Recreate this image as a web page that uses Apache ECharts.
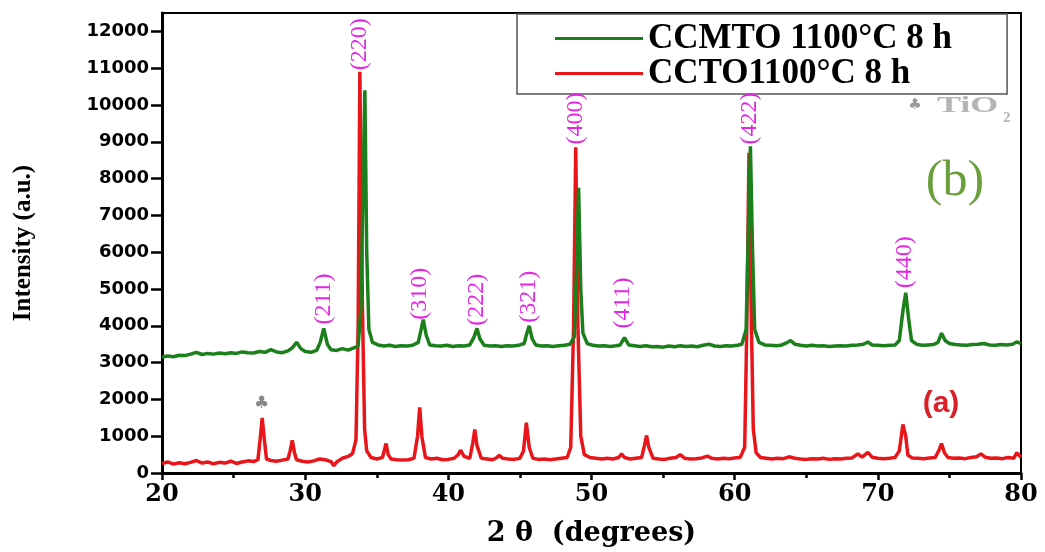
<!DOCTYPE html>
<html>
<head>
<meta charset="utf-8">
<script src="https://cdn.jsdelivr.net/npm/echarts@6/dist/echarts.min.js"></script>
<style>
html, body { margin: 0; padding: 0; background: #fff; }
#main { width: 1045px; height: 552px; }
</style>
</head>
<body>
<div id="main"></div>
<script>
// series names
var nameB = 'CCMTO 1100°C 8 h';
var nameA = 'CCTO1100°C 8 h';

// tick labels of the y axis (12500 is the frame top, unlabelled)
var yTicks = [0, 1000, 2000, 3000, 4000, 5000, 6000, 7000, 8000, 9000, 10000, 11000, 12000];

// (b) CCMTO, [2theta, intensity]
var ccmto = [
	[20.0,3150],[20.4,3180],[20.8,3160],[21.2,3200],[21.6,3190],[22.0,3230],[22.4,3280],[22.8,3220],
	[23.2,3250],[23.6,3230],[24.0,3260],[24.4,3240],[24.8,3270],[25.2,3250],[25.6,3290],[26.0,3270],
	[26.4,3260],[26.8,3300],[27.2,3280],[27.6,3350],[28.0,3290],[28.4,3270],[28.8,3320],[29.1,3400],
	[29.4,3550],[29.7,3380],[30.0,3300],[30.4,3280],[30.8,3330],[31.05,3550],[31.3,3930],[31.55,3500],
	[31.8,3350],[32.2,3330],[32.6,3380],[33.0,3340],[33.4,3400],[33.7,3450],[33.9,4500],[34.05,8000],
	[34.17,10400],[34.3,6000],[34.45,3900],[34.7,3550],[35.1,3480],[35.5,3450],[35.9,3470],[36.3,3440],
	[36.7,3460],[37.1,3450],[37.5,3470],[37.9,3550],[38.1,3900],[38.25,4170],[38.45,3750],[38.7,3480],
	[39.1,3460],[39.5,3450],[39.9,3470],[40.3,3440],[40.7,3460],[41.1,3450],[41.5,3480],[41.8,3700],
	[42.0,3930],[42.2,3650],[42.5,3470],[42.9,3450],[43.3,3460],[43.7,3440],[44.1,3460],[44.5,3450],
	[44.9,3470],[45.3,3520],[45.45,3750],[45.65,4000],[45.85,3650],[46.1,3480],[46.5,3450],[46.9,3460],
	[47.3,3440],[47.7,3460],[48.1,3470],[48.5,3500],[48.8,3700],[48.95,5500],[49.1,7750],[49.25,5000],
	[49.4,3800],[49.7,3520],[50.1,3470],[50.5,3450],[50.9,3460],[51.3,3440],[51.7,3460],[52.0,3480],
	[52.3,3680],[52.6,3480],[53.0,3460],[53.4,3440],[53.8,3460],[54.2,3430],[54.6,3440],[55.0,3420],
	[55.4,3450],[55.8,3430],[56.2,3460],[56.6,3440],[57.0,3450],[57.4,3430],[57.8,3470],[58.2,3500],
	[58.6,3450],[59.0,3440],[59.4,3460],[59.8,3450],[60.2,3470],[60.5,3500],[60.8,3900],[60.95,6500],
	[61.1,8880],[61.25,6000],[61.4,3900],[61.7,3550],[62.1,3480],[62.5,3470],[62.9,3460],[63.3,3480],
	[63.7,3550],[63.9,3600],[64.2,3500],[64.6,3470],[65.0,3450],[65.4,3470],[65.8,3450],[66.2,3460],
	[66.6,3440],[67.0,3450],[67.4,3460],[67.8,3450],[68.2,3470],[68.6,3480],[69.0,3500],[69.3,3560],
	[69.6,3480],[70.0,3470],[70.4,3460],[70.8,3470],[71.2,3480],[71.5,3600],[71.75,4400],[71.95,4900],
	[72.15,4200],[72.35,3600],[72.7,3500],[73.1,3470],[73.5,3480],[73.9,3490],[74.2,3550],[74.45,3800],
	[74.7,3600],[75.0,3520],[75.4,3490],[75.8,3480],[76.2,3470],[76.6,3490],[77.0,3500],[77.4,3520],
	[77.8,3480],[78.2,3470],[78.6,3490],[79.0,3480],[79.4,3500],[79.7,3560],[80.0,3520]
];

// (a) CCTO, [2theta, intensity]
var ccto = [
	[20.0,260],[20.4,300],[20.8,240],[21.2,280],[21.6,250],[22.0,290],[22.4,340],[22.8,270],
	[23.2,300],[23.6,250],[24.0,290],[24.4,270],[24.8,320],[25.2,260],[25.6,300],[26.0,330],
	[26.4,310],[26.7,360],[26.85,900],[27.0,1500],[27.15,900],[27.3,380],[27.6,340],[28.0,320],
	[28.4,350],[28.8,380],[28.95,600],[29.1,890],[29.25,560],[29.4,360],[29.8,320],[30.2,300],
	[30.6,330],[31.0,380],[31.4,360],[31.8,310],[32.0,200],[32.2,300],[32.6,400],[33.0,450],
	[33.3,520],[33.55,900],[33.7,4000],[33.82,10900],[34.0,4500],[34.15,1200],[34.3,600],[34.6,420],
	[35.0,380],[35.4,420],[35.55,650],[35.65,800],[35.8,500],[36.0,380],[36.4,360],[36.8,350],
	[37.2,360],[37.6,400],[37.85,1000],[38.0,1780],[38.15,1000],[38.4,420],[38.8,380],[39.2,400],
	[39.6,360],[40.0,370],[40.4,400],[40.7,500],[40.85,620],[41.1,450],[41.5,400],[41.7,800],
	[41.85,1180],[42.0,750],[42.3,400],[42.7,380],[43.1,360],[43.4,420],[43.55,480],[43.8,400],
	[44.2,380],[44.6,370],[45.0,400],[45.25,600],[45.45,1370],[45.65,700],[45.9,400],[46.3,370],
	[46.7,380],[47.1,360],[47.5,380],[47.9,400],[48.3,420],[48.55,700],[48.75,4000],[48.9,8850],
	[49.05,4000],[49.25,1000],[49.5,500],[49.9,420],[50.3,400],[50.7,380],[51.1,400],[51.5,380],
	[51.9,420],[52.1,520],[52.3,420],[52.7,380],[53.1,400],[53.5,420],[53.7,750],[53.85,1020],
	[54.0,700],[54.3,400],[54.7,380],[55.1,370],[55.5,400],[55.9,420],[56.2,500],[56.5,400],
	[56.9,380],[57.3,390],[57.7,410],[58.1,460],[58.4,400],[58.8,380],[59.2,400],[59.6,390],
	[60.0,410],[60.4,430],[60.7,700],[60.85,4000],[61.0,8700],[61.15,4500],[61.3,1200],[61.5,550],
	[61.8,420],[62.2,400],[62.6,380],[63.0,400],[63.4,390],[63.8,440],[64.2,400],[64.6,380],
	[65.0,370],[65.4,390],[65.8,380],[66.2,400],[66.6,370],[67.0,390],[67.4,380],[67.8,400],
	[68.2,410],[68.6,520],[68.9,430],[69.3,560],[69.6,430],[70.0,400],[70.4,390],[70.8,400],
	[71.2,420],[71.5,600],[71.75,1320],[71.95,1000],[72.1,480],[72.4,410],[72.8,400],[73.2,390],
	[73.6,410],[74.0,420],[74.25,600],[74.45,800],[74.65,550],[74.9,420],[75.3,400],[75.7,410],
	[76.1,390],[76.5,420],[76.9,440],[77.2,520],[77.5,430],[77.9,400],[78.3,410],[78.7,390],
	[79.1,420],[79.5,400],[79.7,550],[80.0,430]
];

// Miller indices of the perovskite reflections
var hkl = ['(211)', '(220)', '(310)', '(222)', '(321)', '(400)', '(411)', '(422)', '(440)'];

var chart = echarts.init(document.getElementById('main'));

var option = {
	animation: false,
	backgroundColor: '#fff',
	grid: {
		left: 162, right: 24, top: 13, bottom: 74,
		show: true, borderColor: '#000', borderWidth: 2
	},
	legend: {
		data: [nameB, nameA],
		orient: 'vertical',
		left: 517, top: 14,
		padding: [7, 55, 3, 38],
		itemGap: 0,
		itemWidth: 88, itemHeight: 3,
		icon: 'rect',
		borderColor: '#555', borderWidth: 1.5,
		textStyle: {
			fontFamily: 'Liberation Serif', fontWeight: 'bold', fontSize: 35,
			lineHeight: 31, color: '#000'
		}
	},
	xAxis: {
		type: 'value', min: 20, max: 80, interval: 10,
		name: '2 θ  (degrees)', nameLocation: 'middle', nameGap: 47,
		nameTextStyle: { fontFamily: 'DejaVu Serif', fontWeight: 'bold', fontSize: 27, color: '#000' },
		axisLine: { lineStyle: { color: '#000', width: 3 } },
		axisTick: { inside: false, length: 7, lineStyle: { width: 2.5, color: '#000' } },
		minorTick: { show: true, splitNumber: 2, length: 5, lineStyle: { width: 2.5, color: '#000' } },
		axisLabel: { margin: 10, fontFamily: 'DejaVu Serif', fontWeight: 'bold', fontSize: 24, color: '#000' },
		splitLine: { show: false }
	},
	yAxis: {
		type: 'value', min: 0, max: 12500, interval: 1000,
		name: 'Intensity (a.u.)', nameLocation: 'middle', nameGap: 126, nameRotate: 90,
		nameTextStyle: { fontFamily: 'Liberation Serif', fontWeight: 'bold', fontSize: 25, color: '#000' },
		axisLine: { lineStyle: { color: '#000', width: 3 } },
		axisTick: { inside: false, length: 11, lineStyle: { width: 2.5, color: '#000' } },
		axisLabel: {
			margin: 13, showMaxLabel: false,
			fontFamily: 'DejaVu Sans', fontWeight: 'bold', fontSize: 18, color: '#000',
			formatter: function(v) { return yTicks.indexOf(v) >= 0 ? String(v) : ''; }
		},
		splitLine: { show: false }
	},
	series: [
		{
			name: nameA, type: 'line', data: ccto, showSymbol: false, symbol: 'none',
			lineStyle: { color: '#e8161b', width: 3.5 }, itemStyle: { color: '#e8161b' }
		},
		{
			name: nameB, type: 'line', data: ccmto, showSymbol: false, symbol: 'none',
			lineStyle: { color: '#1b801b', width: 3.5 }, itemStyle: { color: '#1b801b' }
		}
	]
};
chart.setOption(option);

// annotations anchored in data coordinates
var hklAt = [[31.3, 4730], [33.82, 11650], [38.0, 4870], [42.0, 4710], [45.6, 4790],
	[48.9, 9630], [52.2, 4620], [61.05, 9630], [71.9, 5730]];
var graphics = [];
for (var i = 0; i < hkl.length; i++) {
	var p = chart.convertToPixel({ gridIndex: 0 }, hklAt[i]);
	graphics.push({
		type: 'text', x: p[0], y: p[1], rotation: Math.PI / 2, z: 10,
		style: {
			text: hkl[i], align: 'center', verticalAlign: 'middle',
			fontFamily: 'Liberation Serif', fontSize: 24, fill: '#e326e3'
		}
	});
}
var club = chart.convertToPixel({ gridIndex: 0 }, [26.95, 1880]);
graphics.push({
	type: 'text', x: club[0], y: club[1], z: 10,
	style: { text: '♣', align: 'center', verticalAlign: 'middle', fontFamily: 'DejaVu Sans', fontSize: 17, fill: '#888' }
});
graphics.push(
	{ type: 'text', x: 915, y: 105, z: 10,
		style: { text: '♣', align: 'center', verticalAlign: 'middle', fontFamily: 'DejaVu Sans', fontSize: 15, fill: '#999' } },
	{ type: 'text', x: 937, y: 106, z: 10, scaleX: 1.5,
		style: { text: 'TiO', align: 'left', verticalAlign: 'middle', fontFamily: 'Liberation Serif', fontWeight: 'bold', fontSize: 24, fill: '#b5b5b5' } },
	{ type: 'text', x: 1003, y: 118, z: 10,
		style: { text: '2', align: 'left', verticalAlign: 'middle', fontFamily: 'Liberation Serif', fontWeight: 'bold', fontSize: 15, fill: '#b5b5b5' } },
	{ type: 'text', x: 955, y: 182, z: 10,
		style: { text: '(b)', align: 'center', verticalAlign: 'middle', fontFamily: 'Liberation Serif', fontSize: 50, fill: '#6a9f3c' } },
	{ type: 'text', x: 941, y: 404, z: 10,
		style: { text: '(a)', align: 'center', verticalAlign: 'middle', fontFamily: 'Liberation Sans', fontWeight: 'bold', fontSize: 30, fill: '#dc1f26' } }
);
chart.setOption({ graphic: graphics });
</script>
</body>
</html>
